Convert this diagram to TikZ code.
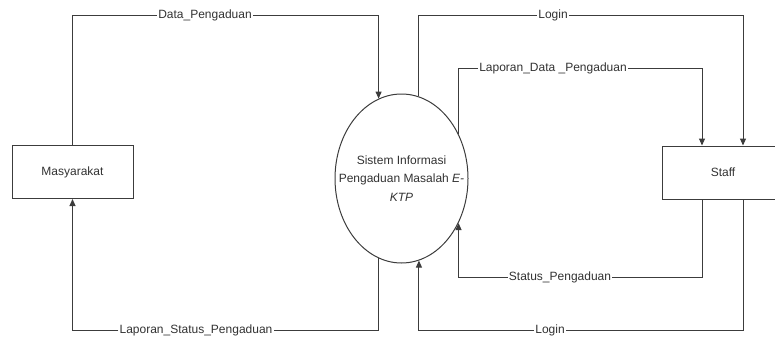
\documentclass[tikz,border=0pt]{standalone}
\usepackage{fontspec}
\setmainfont{Liberation Sans}
\usetikzlibrary{shapes.geometric,arrows.meta}
\definecolor{linec}{RGB}{60,60,60}
\definecolor{textc}{RGB}{50,50,50}
\begin{document}
\begin{tikzpicture}[x=1pt,y=-1pt,
  ln/.style={draw=linec, line width=1pt},
  flow/.style={ln, -{Triangle[length=7pt,width=6pt]}},
  ent/.style={draw=linec, line width=1pt, minimum width=121pt, minimum height=53pt, inner sep=0pt, font=\fontsize{12}{14}\selectfont, text=textc},
  proc/.style={draw=linec, line width=1pt, ellipse, minimum width=133pt, minimum height=169pt, inner sep=0pt},
  lbl/.style={inner sep=1pt, font=\fontsize{12}{14}\selectfont, text=textc}]
\useasboundingbox (0,0) rectangle (775,343);
\node[ent] (m) at (72.5,172) {Masyarakat};
\node[ent] (s) at (723,172.5) {Staff};
\node[proc] (e) at (401.5,178.5) {};
\node[align=center, font=\fontsize{12}{18.5}\selectfont, text=textc, inner sep=0pt] (et) at (e.center) {Sistem Informasi\\Pengaduan Masalah \textit{E-}\\\textit{KTP}};
\coordinate (s1n) at ([xshift=-21pt]s.north);
\coordinate (s2n) at ([xshift=20pt]s.north);
\coordinate (s1s) at ([xshift=-21pt]s.south);
\coordinate (s2s) at ([xshift=20pt]s.south);
\node[lbl] (l1) at (205,15) {Data\_Pengaduan};
\node[lbl] (l2) at (553,15) {Login};
\node[lbl] (l3) at (553,68) {Laporan\_Data \_Pengaduan};
\node[lbl] (l4) at (196,330) {Laporan\_Status\_Pengaduan};
\node[lbl] (l5) at (560,277) {Status\_Pengaduan};
\node[lbl] (l6) at (550,330) {Login};
\draw[ln] (m.north) |- (l1.west);
\draw[flow] (l1.east) -| (e.106.6);
\draw[ln] (e.78.6) |- (l2.west);
\draw[flow] (l2.east) -| (s2n);
\draw[ln] (e.38.3) |- (l3.west);
\draw[flow] (l3.east) -| (s1n);
\draw[ln] (s1s) |- (l5.east);
\draw[flow] (l5.west) -| (e.-38.3);
\draw[ln] (s2s) |- (l6.east);
\draw[flow] (l6.west) -| (e.-78.6);
\draw[ln] (e.-106.6) |- (l4.east);
\draw[flow] (l4.west) -| (m.south);
\end{tikzpicture}
\end{document}
